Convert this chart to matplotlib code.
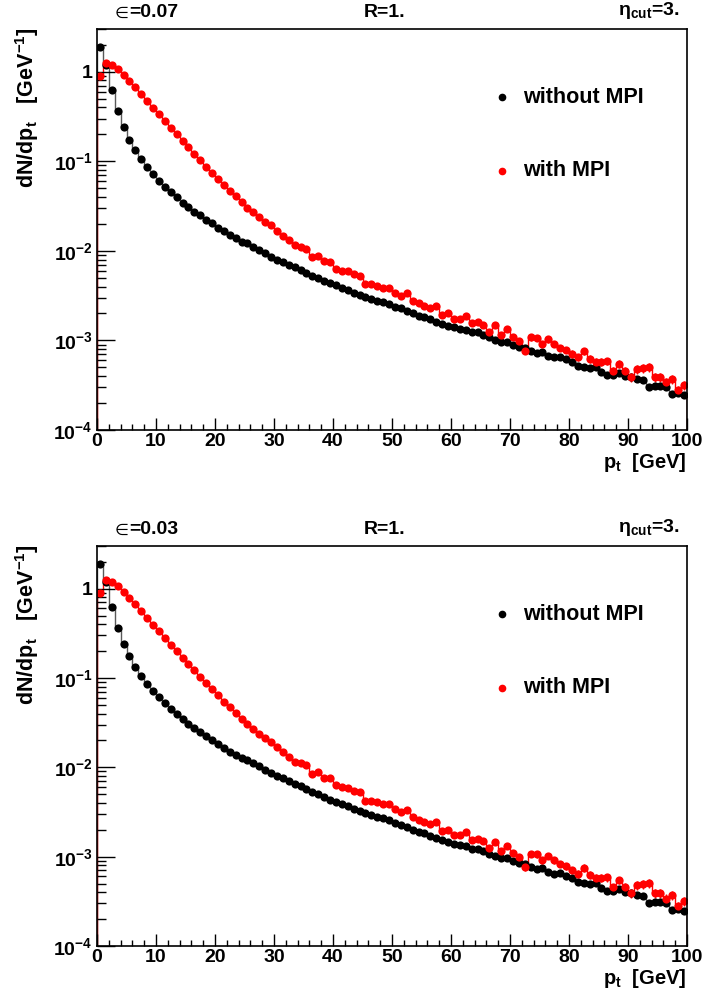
import matplotlib
matplotlib.use('Agg')
import matplotlib.pyplot as plt
from matplotlib.ticker import FixedLocator, FuncFormatter, MultipleLocator, LogLocator, NullFormatter
import numpy as np

plt.rcParams['font.family'] = ['Liberation Sans', 'DejaVu Sans']
plt.rcParams['font.weight'] = 'bold'

# bin edges of the pt histograms (1 GeV bins)
edges = np.arange(0, 101, 1.0)
centers = 0.5 * (edges[:-1] + edges[1:])

# epsilon = 0.07 panel
top_without = [1.87, 1.2, 0.62, 0.366, 0.243, 0.175, 0.133, 0.105, 0.086, 0.072,
               0.0605, 0.0519, 0.045, 0.0395, 0.0344, 0.0306, 0.0273, 0.0249, 0.0222, 0.0203,
               0.0181, 0.0166, 0.0150, 0.0139, 0.0127, 0.0121, 0.0111, 0.0103, 0.0094, 0.0086,
               0.0079, 0.0076, 0.00695, 0.00655, 0.0061, 0.0057, 0.00523, 0.00501, 0.00464, 0.00434,
               0.00412, 0.00385, 0.00365, 0.00341, 0.00324, 0.00307, 0.0029, 0.00277, 0.00268, 0.00255,
               0.00238, 0.00228, 0.00214, 0.002, 0.00187, 0.00184, 0.00172, 0.00162, 0.00152, 0.00146,
               0.0014, 0.00134, 0.00131, 0.00123, 0.00123, 0.00115, 0.00108, 0.00101, 0.00097, 0.00097,
               0.00089, 0.00085, 0.00082, 0.00077, 0.00072, 0.00074, 0.00067, 0.000647, 0.000658, 0.000615,
               0.000578, 0.000518, 0.000501, 0.000492, 0.000501, 0.000444, 0.000411, 0.000411, 0.000436, 0.000404,
               0.000394, 0.000371, 0.000361, 0.000304, 0.00031, 0.00031, 0.0003, 0.00025, 0.00026, 0.000246]
top_with = [0.90, 1.26, 1.19, 1.06, 0.916, 0.78, 0.668, 0.562, 0.47, 0.396,
            0.336, 0.283, 0.235, 0.20, 0.169, 0.144, 0.122, 0.103, 0.0868, 0.0745,
            0.0638, 0.0542, 0.0469, 0.0406, 0.0351, 0.0304, 0.0271, 0.0236, 0.0211, 0.0193,
            0.0168, 0.0148, 0.0132, 0.0115, 0.0111, 0.0105, 0.00846, 0.00875, 0.00763, 0.0075,
            0.0063, 0.00595, 0.0059, 0.0055, 0.00523, 0.00423, 0.00423, 0.00404, 0.00387, 0.00387,
            0.0034, 0.00313, 0.00336, 0.00277, 0.00259, 0.00242, 0.00232, 0.00244, 0.00192, 0.002,
            0.00173, 0.00173, 0.00189, 0.00155, 0.00159, 0.00149, 0.00125, 0.00147, 0.00115, 0.00133,
            0.0011, 0.00099, 0.00076, 0.00108, 0.00106, 0.00091, 0.00103, 0.00091, 0.00083, 0.00078,
            0.000705, 0.000647, 0.000755, 0.000625, 0.000574, 0.000574, 0.000585, 0.000455, 0.000545, 0.000459,
            0.000387, 0.00048, 0.000489, 0.000501, 0.000391, 0.000387, 0.00034, 0.000368, 0.000279, 0.000318]

# epsilon = 0.03 panel: at this resolution it reads the same as the top one
bot_without = list(top_without)
bot_with = list(top_with)

# relative errors, read per 10 GeV block
rel_err_without = [0.005, 0.008, 0.01, 0.015, 0.02, 0.025, 0.03, 0.035, 0.04, 0.05]
rel_err_with = [0.01, 0.015, 0.02, 0.03, 0.04, 0.05, 0.07, 0.08, 0.10, 0.12]

panels = [('=0.07', top_without, top_with), ('=0.03', bot_without, bot_with)]
ax_rects = [[97/704, 1-430/997, 590/704, 401/997], [97/704, 1-946/997, 590/704, 400/997]]

fig = plt.figure(figsize=(7.04, 9.97), dpi=100)

for (eps_txt, v_wo, v_w), rect in zip(panels, ax_rects):
    ax = fig.add_axes(rect)
    v_wo = np.array(v_wo)
    v_w = np.array(v_w)
    e_wo = v_wo * np.repeat(rel_err_without, 10)
    e_w = v_w * np.repeat(rel_err_with, 10)

    ax.stairs(v_wo, edges, color='0.35', lw=1.0)
    ax.errorbar(centers, v_wo, yerr=e_wo, fmt='o', color='black', ms=5.9, mew=0, elinewidth=1.0)
    ax.stairs(v_w, edges, color='red', lw=1.0)
    ax.errorbar(centers, v_w, yerr=e_w, fmt='o', color='red', ms=5.9, mew=0, elinewidth=1.0)

    ax.set_yscale('log')
    ax.set_xlim(0, 100)
    ax.set_ylim(1e-4, 3.0)

    ax.xaxis.set_major_locator(MultipleLocator(10))
    ax.xaxis.set_minor_locator(MultipleLocator(2))
    ax.yaxis.set_major_locator(FixedLocator([1e-4, 1e-3, 1e-2, 1e-1, 1]))
    ax.yaxis.set_minor_locator(LogLocator(base=10, subs=np.arange(2, 10)))
    ax.yaxis.set_minor_formatter(NullFormatter())
    ax.yaxis.set_major_formatter(FuncFormatter(
        lambda v, p: '1' if v == 1 else r'$\mathregular{10^{%d}}$' % round(np.log10(v))))

    ax.tick_params(which='both', direction='in', top=False, right=False, labelsize=14, width=1.0)
    ax.tick_params(axis='y', which='major', length=12.7, pad=3)
    ax.tick_params(axis='y', which='minor', length=6.4)
    ax.tick_params(axis='x', which='major', length=8.6, pad=2)
    ax.tick_params(axis='x', which='minor', length=4.3)
    for lab in ax.get_xticklabels() + ax.get_yticklabels():
        lab.set_fontweight('bold')
    for sp in ax.spines.values():
        sp.set_linewidth(1.2)

    # legend drawn by hand like the ROOT TLegend
    ax.plot([0.686], [0.830], 'o', color='black', ms=4.5, transform=ax.transAxes, clip_on=False)
    ax.text(0.722, 0.830, 'without MPI', transform=ax.transAxes, fontsize=15.5,
            fontweight='bold', va='center')
    ax.plot([0.686], [0.646], 'o', color='red', ms=4.5, transform=ax.transAxes, clip_on=False)
    ax.text(0.722, 0.646, 'with MPI', transform=ax.transAxes, fontsize=15.5,
            fontweight='bold', va='center')

    # header texts: thin epsilon symbol then the bold value
    ax.text(0.054, 1.02, '\u2208', transform=ax.transAxes, fontsize=11.5, ha='right', va='bottom',
            fontweight='normal', family='DejaVu Sans')
    ax.text(0.054, 1.02, eps_txt, transform=ax.transAxes, fontsize=14, ha='left', va='bottom',
            fontweight='bold')
    ax.text(0.488, 1.02, 'R=1.', transform=ax.transAxes, fontsize=14, ha='center', va='bottom',
            fontweight='bold')
    ax.text(0.935, 1.02, '\u03b7$_{\\mathregular{cut}}$=3.', transform=ax.transAxes, fontsize=14,
            ha='center', va='bottom', fontweight='bold')

    # axis titles
    ax.text(1.0, -0.052, 'p$_{\\mathregular{t}}$  [GeV]', transform=ax.transAxes, fontsize=14.5,
            ha='right', va='top', fontweight='bold')
    ax.text(-0.119, 1.005, 'dN/dp$_{\\mathregular{t}}$   [GeV$^{\\mathregular{-1}}$]', transform=ax.transAxes,
            fontsize=15.5, ha='center', va='top', rotation=90, fontweight='bold')

fig.savefig('out.png', dpi=100)
